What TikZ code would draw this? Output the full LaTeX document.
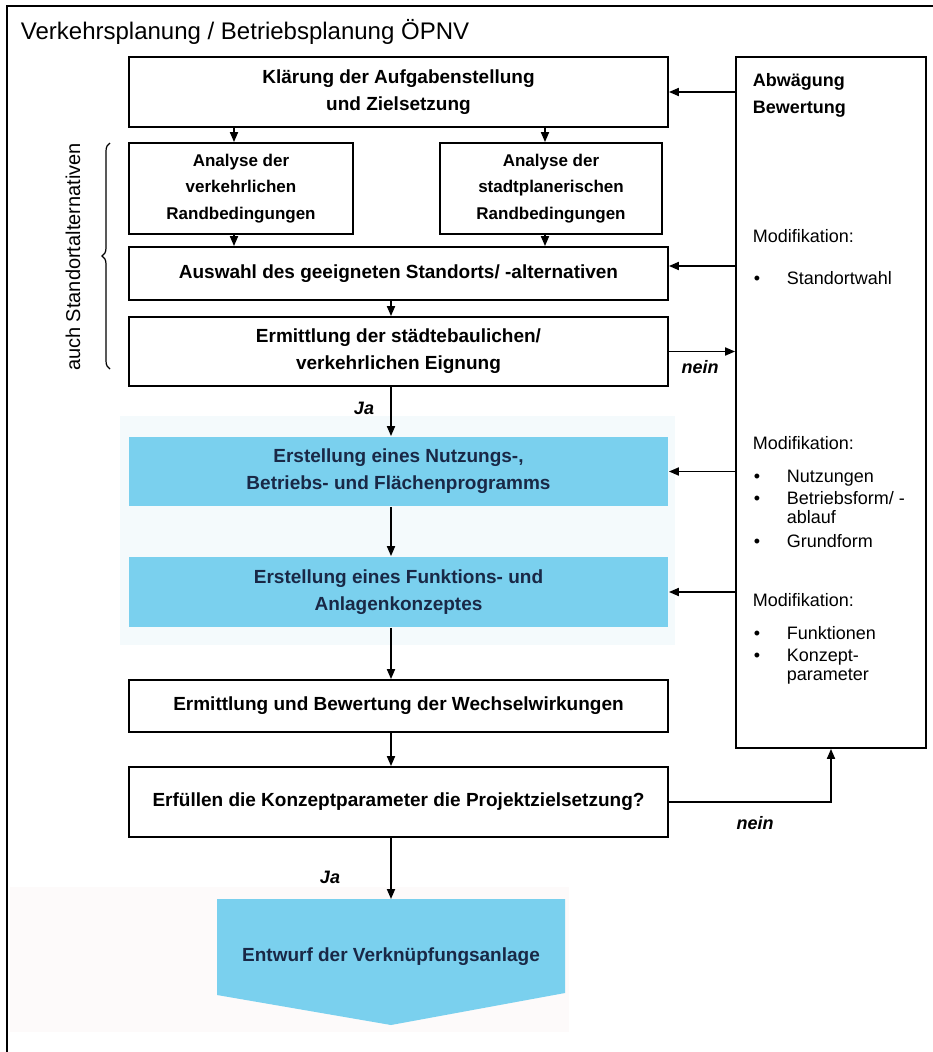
\documentclass[tikz,border=0pt]{standalone}
\usepackage{fontspec}
\setmainfont{Liberation Sans}
\usetikzlibrary{arrows.meta,decorations.pathreplacing}
\definecolor{boxblue}{RGB}{122,208,238}
\definecolor{navy}{RGB}{25,40,70}
\definecolor{pale}{RGB}{244,250,252}
\definecolor{paletwo}{RGB}{253,250,250}
\begin{document}
\begin{tikzpicture}[x=1pt,y=-1pt,
  line width=1.8pt,
  arr/.style={-{Triangle[length=10pt,width=8pt]}},
  box/.style={draw, line width=1.8pt, align=center, inner sep=0pt, font=\bfseries\fontsize{19}{27}\selectfont},
  smallbox/.style={box, font=\bfseries\fontsize{17}{26.5}\selectfont},
  bluebox/.style={fill=boxblue, align=center, inner sep=0pt, text=navy, font=\bfseries\fontsize{19}{27}\selectfont},
  lab/.style={inner sep=0pt, font=\bfseries\itshape\fontsize{18}{20}\selectfont},
  side/.style={anchor=base west, inner sep=0pt, font=\fontsize{18}{20}\selectfont},
  sidebold/.style={anchor=base west, inner sep=0pt, font=\bfseries\fontsize{18}{20}\selectfont},
]
\useasboundingbox (0,0) rectangle (933,1052);
% faded backgrounds
\fill[pale] (120,416) rectangle (675,645);
\fill[paletwo] (10,887) rectangle (569,1032);
% frame
\draw (7,1052) -- (7,6) -- (933,6);
\node[anchor=west, inner sep=0pt, font=\fontsize{24}{26}\selectfont] (title) at (20,32) {Verkehrsplanung / Betriebsplanung ÖPNV};

% main column
\node[box, minimum width=539pt, minimum height=70pt] (klaer) at (398.5,92) {Klärung der Aufgabenstellung\\und Zielsetzung};
\node[smallbox, minimum width=224pt, minimum height=91pt] (ana1) at (241,188.5) {Analyse der\\verkehrlichen\\Randbedingungen};
\node[smallbox, minimum width=222pt, minimum height=91pt] (ana2) at (551,188.5) {Analyse der\\stadtplanerischen\\Randbedingungen};
\node[box, minimum width=539pt, minimum height=53pt] (auswahl) at (398.5,273.5) {Auswahl des geeigneten Standorts/ -alternativen};
\node[box, minimum width=539pt, minimum height=69pt] (ermitt1) at (398.5,351.5) {Ermittlung der städtebaulichen/\\verkehrlichen Eignung};
\node[bluebox, minimum width=539pt, minimum height=69pt] (blue1) at (398.5,471.5) {Erstellung eines Nutzungs-,\\Betriebs- und Flächenprogramms};
\node[bluebox, minimum width=539pt, minimum height=70pt] (blue2) at (398.5,592) {Erstellung eines Funktions- und\\Anlagenkonzeptes};
\node[box, minimum width=539pt, minimum height=52pt] (ermitt2) at (398.5,706) {Ermittlung und Bewertung der Wechselwirkungen};
\node[box, minimum width=539pt, minimum height=70pt] (erfuell) at (398.5,802) {Erfüllen die Konzeptparameter die Projektzielsetzung?};

% final chevron
\path[fill=boxblue] (217,899) -- (565,899) -- (565,993) -- (391,1025) -- (217,995) -- cycle;
\coordinate (entop) at (391,899);
\node[inner sep=0pt, text=navy, font=\bfseries\fontsize{19}{22}\selectfont] (entw) at (391,957) {Entwurf der Verknüpfungsanlage};

% right box
\node[draw, line width=1.8pt, minimum width=190pt, minimum height=691pt, inner sep=0pt] (abw) at (831,402.5) {};
\node[sidebold] (abw1) at (752,86) {Abwägung};
\node[sidebold] (abw2) at (752,113) {Bewertung};
\node[side] (mod1) at (752,242) {Modifikation:};
\node[side] (b11) at (753,284) {•};
\node[side] (t11) at (786,284) {Standortwahl};
\node[side] (mod2) at (752,449) {Modifikation:};
\node[side] (b21) at (753,482) {•};
\node[side] (t21) at (786,482) {Nutzungen};
\node[side] (b22) at (753,504) {•};
\node[side] (t22) at (786,504) {Betriebsform/ -};
\node[side] (t22b) at (786,523) {ablauf};
\node[side] (b23) at (753,547) {•};
\node[side] (t23) at (786,547) {Grundform};
\node[side] (mod3) at (752,606) {Modifikation:};
\node[side] (b31) at (753,639) {•};
\node[side] (t31) at (786,639) {Funktionen};
\node[side] (b32) at (753,661) {•};
\node[side] (t32) at (786,661) {Konzept-};
\node[side] (t32b) at (786,680) {parameter};

% brace and rotated label
\draw[decorate, decoration={brace, amplitude=8pt}, line width=1.2pt] (110,369) -- (110,143);
\node[rotate=90, inner sep=0pt, font=\fontsize{20}{22}\selectfont] (auch) at (73,257) {auch Standortalternativen};

% vertical connectors
\draw[arr] ([xshift=-7pt]klaer.south -| ana1.north) -- ([xshift=-7pt]ana1.north);
\draw[arr] ([xshift=-6pt]klaer.south -| ana2.north) -- ([xshift=-6pt]ana2.north);
\draw[arr] ([xshift=-7pt]ana1.south) -- ([xshift=-7pt]ana1.south |- auswahl.north);
\draw[arr] ([xshift=-6pt]ana2.south) -- ([xshift=-6pt]ana2.south |- auswahl.north);
\draw[arr] ([xshift=-7.5pt]auswahl.south) -- ([xshift=-7.5pt]ermitt1.north);
\draw[arr] ([xshift=-7.5pt]ermitt1.south) -- ([xshift=-7.5pt]blue1.north);
\draw[arr] ([xshift=-7.5pt]blue1.south) -- ([xshift=-7.5pt]blue2.north);
\draw[arr] ([xshift=-7.5pt]blue2.south) -- ([xshift=-7.5pt]ermitt2.north);
\draw[arr] ([xshift=-7.5pt]ermitt2.south) -- ([xshift=-7.5pt]erfuell.north);
\draw[arr] ([xshift=-7.5pt]erfuell.south) -- (entop);

% feedback connectors
\coordinate (aw) at ([yshift=7.5pt]auswahl.east);
\draw[arr] (abw.west |- klaer.east) -- (klaer.east);
\draw[arr] (abw.west |- aw) -- (aw);
\draw[arr] (abw.west |- blue1.east) -- (blue1.east);
\draw[arr] (abw.west |- blue2.east) -- (blue2.east);
\draw[arr] (ermitt1.east) -- (ermitt1.east -| abw.west);
\draw[arr] (erfuell.east) -| (abw.south);

% labels
\node[lab] (ja1) at (364,408) {Ja};
\node[lab] (ja2) at (330,877) {Ja};
\node[lab] (nein1) at (700,367) {nein};
\node[lab] (nein2) at (755,823) {nein};
\end{tikzpicture}
\end{document}
